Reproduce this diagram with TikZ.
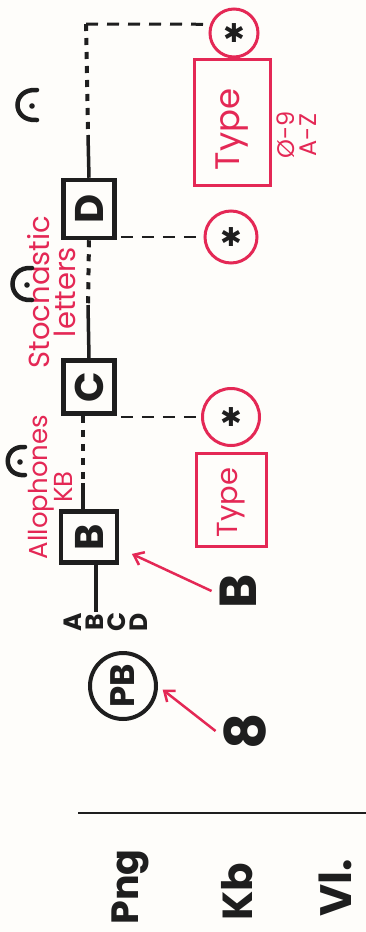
\documentclass[tikz,border=0pt]{standalone}
\usepackage{fontspec}
\setmainfont{Poppins}
\newfontfamily\symfont{DejaVu Sans}
\usepackage{graphicx}
\usetikzlibrary{arrows.meta,calc}
\definecolor{pen}{RGB}{228,40,85}
\definecolor{ink}{RGB}{30,30,30}
\definecolor{paper}{RGB}{254,253,250}
\begin{document}
\begin{tikzpicture}[x=1pt,y=-1pt,
  inkline/.style={draw=ink, line width=3.5pt},
  sqbox/.style={draw=ink, line width=4.5pt, inner sep=0pt, text=ink, font=\fontsize{40}{40}\selectfont\bfseries},
  dotline/.style={draw=ink, line width=4pt, dash pattern=on 7pt off 7pt},
  dashline/.style={draw=ink, line width=2.5pt, dash pattern=on 12pt off 9pt},
  starcirc/.style={circle, draw=pen, line width=3pt, inner sep=0pt, text=ink, font=\symfont\bfseries\fontsize{26}{26}\selectfont},
  typebox/.style={draw=pen, line width=3pt, inner sep=0pt, text=pen},
  redlabel/.style={text=pen, rotate=90, align=center, inner sep=0pt},
  inklabel/.style={text=ink, rotate=90, align=center, inner sep=0pt},
  redarrow/.style={draw=pen, line width=2.5pt, -{Straight Barb[length=9pt,width=14pt]}},
  arch/.style={draw=ink, line width=4.5pt, line cap=round}
]
\useasboundingbox (0,0) rectangle (366,932);
\fill[paper] (0,0) rectangle (366,932);

% boxes of the chain
\node[sqbox, minimum width=51pt, minimum height=58pt] (Dbox) at (89,209) {\rotatebox{90}{D}};
\node[sqbox, minimum width=51pt, minimum height=53pt] (Cbox) at (89,387) {\rotatebox{90}{C}};
\node[sqbox, minimum width=56pt, minimum height=51pt] (Bbox) at (89,537) {\rotatebox{90}{B}};

% star circles
\node[starcirc, minimum size=48pt] (S1) at (234,33) {✱};
\node[starcirc, minimum size=52pt] (S2) at (231,237) {✱};
\node[starcirc, minimum size=57pt] (S3) at (231,417) {✱};

% type boxes
\node[typebox, minimum width=76pt, minimum height=126pt, font=\fontsize{34}{34}\selectfont] (T1) at (232.5,122.5) {\rotatebox{90}{Type\hspace{14pt}}};
\node[typebox, minimum width=70pt, minimum height=93pt, font=\fontsize{29}{29}\selectfont] (T2) at (231.5,500) {\rotatebox{90}{Type\hspace{5pt}}};
\node[redlabel, font=\fontsize{24}{22}\selectfont] (rng) at (297,135) {Ø-9\\A-Z};

% red labels
\node[redlabel, font=\fontsize{26}{25}\selectfont] (allo) at (50,487) {Allophones\\KB};
\node[redlabel, font=\fontsize{29}{26}\selectfont] (stoch) at (52,292) {Stochastic\\letters};

% letters list and circle
\node[inklabel, font=\fontsize{25}{22}\selectfont\bfseries] (abcd) at (106,622) {A\\B\\C\\D};
\node[circle, draw=ink, line width=4pt, minimum size=66pt, inner sep=0pt, text=ink, font=\fontsize{34}{34}\selectfont\bfseries] (pb) at (123,686) {\rotatebox{90}{PB}};

\node[inklabel, inner sep=8pt, font=\fontsize{52}{52}\selectfont\bfseries] (bigB) at (238,591) {B};
\node[inklabel, inner sep=8pt, font=\fontsize{56}{56}\selectfont\bfseries] (eight) at (245,731) {8};

% chain connectors
\coordinate (corner) at (86,24);
\coordinate (k1) at (88,135);
\coordinate (k2) at (88,305);
\coordinate (k3) at (83,483);
\draw[inkline] (Dbox.north) -- (k1);
\draw[dotline] (corner) -- (k1);
\draw[dashline, line width=3pt] (corner) -- (S1.160);
\draw[dotline] (Dbox.south) -- (k2);
\draw[inkline] (k2) -- (Cbox.north);
\draw[dotline] ([xshift=-6pt]Cbox.south) -- (k3);
\draw[inkline] (k3) -- ([xshift=-6pt]Bbox.north);
\draw[inkline] ([xshift=7pt]Bbox.south) -- ([xshift=-10pt]abcd.east);
\draw[dashline, shorten <=4pt] (S2.west -| Dbox.east) -- (S2.west);
\draw[dashline, shorten <=4pt] (S3.west -| Cbox.east) -- (S3.west);

% red arrows
\draw[redarrow, shorten >=14pt] (bigB.north) -- (Bbox.-20);
\draw[redarrow, shorten >=6pt] (eight.north) -- (pb.east);

% arches (open to the right, with a dot)
\foreach \cx/\cy/\w/\h in {32/105/15/15, 27/284/15/16, 20/461/12/14} {
  \draw[arch] (\cx+5,\cy-\h) .. controls (\cx-\w-6,\cy-\h-2) and (\cx-\w-6,\cy+\h+2) .. (\cx+5,\cy+\h);
  \fill[ink] (\cx,\cy+1) circle (2.8);
}

% separator and bottom labels
\draw[ink, line width=2pt] (78,813) -- (366,813);
\node[inklabel, font=\fontsize{38}{38}\selectfont\bfseries] (png) at (130,887) {Png};
\node[inklabel, font=\fontsize{42}{42}\selectfont\bfseries] (kb) at (237,892) {Kb};
\node[inklabel, font=\fontsize{44}{44}\selectfont\bfseries] (vl) at (335,888) {Vl.};
\end{tikzpicture}
\end{document}
